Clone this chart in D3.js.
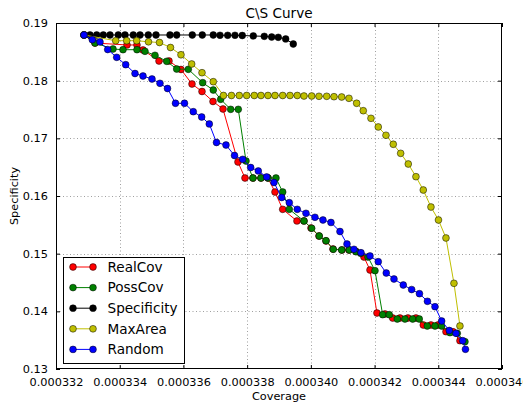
<!DOCTYPE html>
<html><head><meta charset="utf-8">
<script src="https://cdn.jsdelivr.net/npm/d3@7/dist/d3.min.js"></script>
<style>body{margin:0;background:#fff;} svg text{font-family:"DejaVu Sans",sans-serif;fill:#000;}</style>
</head><body><svg id="c" width="523" height="406"></svg>
<script>
const titleText = "C\\S Curve";
const xLabel = "Coverage";
const yLabel = "Specificity";
const xTicks = [0.000332, 0.000334, 0.000336, 0.000338, 0.000340, 0.000342, 0.000344, 0.000346];
const yTicks = [0.13, 0.14, 0.15, 0.16, 0.17, 0.18, 0.19];
const seriesNames = ["RealCov", "PossCov", "Specificity", "MaxArea", "Random"];
const seriesColors = ["#ff0000", "#008000", "#000000", "#bfbf00", "#0000ff"];

const realCovX = [0.000332879,0.000333224,0.000334229,0.000334542,0.000334731,0.000335233,0.000335547,0.000335923,0.000336269,0.000336583,0.000336928,0.000337242,0.000337712,0.000337932,0.000338183,0.000338434,0.000338654,0.000338874,0.000339116,0.000339564,0.000339784,0.000340004,0.000340255,0.000340475,0.000340694,0.000340977,0.000341196,0.000341416,0.000341667,0.000341856,0.000342075,0.000342326,0.000342568,0.000342797,0.000343048,0.000343299,0.000343529,0.000343770,0.000343990,0.000344241,0.000344461,0.000344680];
const realCovY = [0.18792,0.18653,0.18619,0.18619,0.18532,0.18341,0.18341,0.18194,0.17942,0.17812,0.17639,0.17509,0.16590,0.16312,0.16312,0.16312,0.16312,0.16069,0.15769,0.15567,0.15567,0.15445,0.15306,0.15220,0.15081,0.15064,0.15064,0.15038,0.14942,0.14717,0.13971,0.13954,0.13884,0.13884,0.13884,0.13884,0.13763,0.13763,0.13763,0.13647,0.13647,0.13491];

const possCovX = [0.000332879,0.000333224,0.000333789,0.000334103,0.000334542,0.000334793,0.000335107,0.000335475,0.000335788,0.000336153,0.000336604,0.000336937,0.000337169,0.000337483,0.000337722,0.000337964,0.000338183,0.000338434,0.000338654,0.000338905,0.000339116,0.000339323,0.000339784,0.000340026,0.000340264,0.000340475,0.000340704,0.000340967,0.000341206,0.000341416,0.000341564,0.000341793,0.000342013,0.000342254,0.000342461,0.000342713,0.000342954,0.000343196,0.000343403,0.000343654,0.000343896,0.000344106,0.000344367,0.000344596,0.000344837];
const possCovY = [0.18792,0.18653,0.18549,0.18537,0.18537,0.18509,0.18440,0.18336,0.18202,0.18197,0.17965,0.17838,0.17677,0.17503,0.17503,0.16607,0.16312,0.16312,0.16312,0.16312,0.16069,0.15769,0.15567,0.15440,0.15306,0.15225,0.15076,0.15064,0.15064,0.15034,0.15006,0.14942,0.14705,0.13942,0.13942,0.13867,0.13867,0.13867,0.13867,0.13746,0.13746,0.13746,0.13630,0.13619,0.13474];

const specificityX = [0.000332879,0.000333067,0.000333277,0.000333485,0.000333695,0.000333955,0.000334166,0.000334426,0.000334637,0.000334897,0.000335139,0.000335578,0.000335788,0.000336278,0.000336592,0.000336937,0.000337148,0.000337389,0.000337618,0.000337847,0.000338193,0.000338538,0.000338770,0.000338977,0.000339210,0.000339448];
const specificityY = [0.18792,0.18792,0.18792,0.18792,0.18792,0.18792,0.18792,0.18792,0.18792,0.18792,0.18792,0.18792,0.18792,0.18792,0.18792,0.18792,0.18787,0.18787,0.18787,0.18783,0.18775,0.18769,0.18757,0.18752,0.18723,0.18636];

const maxAreaX = [0.000332879,0.000333874,0.000334219,0.000334533,0.000334903,0.000335249,0.000335594,0.000335923,0.000336259,0.000336583,0.000336937,0.000337257,0.000337508,0.000337753,0.000337986,0.000338224,0.000338434,0.000338654,0.000338874,0.000339116,0.000339345,0.000339574,0.000339784,0.000340026,0.000340255,0.000340497,0.000340726,0.000340967,0.000341196,0.000341438,0.000341645,0.000341887,0.000342116,0.000342358,0.000342587,0.000342819,0.000343058,0.000343299,0.000343529,0.000343770,0.000344006,0.000344241,0.000344492,0.000344680];
const maxAreaY = [0.18792,0.18693,0.18693,0.18693,0.18674,0.18662,0.18575,0.18449,0.18289,0.18138,0.17982,0.17743,0.17743,0.17743,0.17743,0.17743,0.17743,0.17743,0.17743,0.17743,0.17743,0.17743,0.17734,0.17734,0.17729,0.17729,0.17722,0.17717,0.17694,0.17608,0.17479,0.17347,0.17197,0.17053,0.16897,0.16740,0.16555,0.16335,0.16104,0.15809,0.15584,0.15272,0.14486,0.13746];

const randomX = [0.000332879,0.000333139,0.000333381,0.000333623,0.000333905,0.000334188,0.000334480,0.000334731,0.000335013,0.000335264,0.000335500,0.000335751,0.000336033,0.000336309,0.000336573,0.000336812,0.000337038,0.000337336,0.000337603,0.000337860,0.000338111,0.000338350,0.000338613,0.000338842,0.000339084,0.000339323,0.000339574,0.000339847,0.000340129,0.000340380,0.000340631,0.000340914,0.000341134,0.000341353,0.000341573,0.000341856,0.000342116,0.000342367,0.000342609,0.000342901,0.000343164,0.000343409,0.000343660,0.000343896,0.000344106,0.000344345,0.000344555,0.000344765,0.000344853];
const randomY = [0.18792,0.18710,0.18671,0.18540,0.18405,0.18277,0.18124,0.18081,0.18029,0.17954,0.17864,0.17608,0.17608,0.17462,0.17370,0.17249,0.16928,0.16884,0.16702,0.16636,0.16494,0.16434,0.16330,0.16234,0.15974,0.15884,0.15769,0.15700,0.15631,0.15584,0.15541,0.15384,0.15168,0.15076,0.15017,0.14960,0.14861,0.14665,0.14561,0.14457,0.14378,0.14306,0.14174,0.14080,0.13832,0.13668,0.13619,0.13491,0.13342];

const seriesX = [realCovX, possCovX, specificityX, maxAreaX, randomX];
const seriesY = [realCovY, possCovY, specificityY, maxAreaY, randomY];

const L = 56, R = 502, T = 23, B = 369;
const svg = d3.select("#c");
const x = d3.scaleLinear().domain([xTicks[0], xTicks[xTicks.length-1]]).range([L, R]);
const y = d3.scaleLinear().domain([yTicks[0], yTicks[yTicks.length-1]]).range([B, T]);

svg.append("rect").attr("x",0).attr("y",0).attr("width",523).attr("height",406).attr("fill","#fff");
svg.append("rect").attr("x",L).attr("y",T).attr("width",R-L).attr("height",B-T).attr("fill","#fff");

// grid
const grid = svg.append("g").attr("stroke","#777").attr("stroke-width",0.7).attr("stroke-dasharray","1,2.5");
grid.selectAll(".gx").data(xTicks.slice(1,-1)).enter().append("line")
  .attr("x1",d=>Math.round(x(d))+0.5).attr("x2",d=>Math.round(x(d))+0.5).attr("y1",T).attr("y2",B);
grid.selectAll(".gy").data(yTicks.slice(1,-1)).enter().append("line")
  .attr("y1",d=>Math.round(y(d))+0.5).attr("y2",d=>Math.round(y(d))+0.5).attr("x1",L).attr("x2",R);

// axes (ticks inside, all four sides)
const fmtX = d3.format(".6f"), fmtY = d3.format(".2f");
function styleAxis(g){ g.select(".domain").remove(); g.selectAll("text").attr("font-size","11.3px").attr("font-family","DejaVu Sans").attr("fill","#000"); g.selectAll("line").attr("stroke","#000"); }
svg.append("g").attr("transform",`translate(0,${B})`)
  .call(d3.axisBottom(x).tickValues(xTicks).tickFormat(fmtX).tickSizeInner(-4).tickSizeOuter(0).tickPadding(9))
  .call(styleAxis);
svg.append("g").attr("transform",`translate(0,${T})`)
  .call(d3.axisTop(x).tickValues(xTicks).tickFormat("").tickSizeInner(-4).tickSizeOuter(0))
  .call(styleAxis);
svg.append("g").attr("transform",`translate(${L},0)`)
  .call(d3.axisLeft(y).tickValues(yTicks).tickFormat(fmtY).tickSizeInner(-4).tickSizeOuter(0).tickPadding(8))
  .call(styleAxis);
svg.append("g").attr("transform",`translate(${R},0)`)
  .call(d3.axisRight(y).tickValues(yTicks).tickFormat("").tickSizeInner(-4).tickSizeOuter(0))
  .call(styleAxis);

// series
const line = d3.line().x(d=>x(d[0])).y(d=>y(d[1]));
seriesNames.forEach((name,i)=>{
  const pts = seriesX[i].map((v,j)=>[v, seriesY[i][j]]);
  const g = svg.append("g");
  g.append("path").datum(pts).attr("d",line).attr("fill","none").attr("stroke",seriesColors[i]).attr("stroke-width",1);
  g.selectAll("circle").data(pts).enter().append("circle")
    .attr("cx",d=>x(d[0])).attr("cy",d=>y(d[1])).attr("r",3.4)
    .attr("fill",seriesColors[i]).attr("stroke","#000").attr("stroke-width",0.5);
});

// frame
svg.append("rect").attr("x",L+0.5).attr("y",T+0.5).attr("width",R-L-1).attr("height",B-T-1)
  .attr("fill","none").attr("stroke","#000").attr("stroke-width",1);

// title & labels
svg.append("text").attr("x",(L+R)/2).attr("y",17.5).attr("text-anchor","middle").attr("font-size","13.6px").text(titleText);
svg.append("text").attr("x",(L+R)/2).attr("y",400).attr("text-anchor","middle").attr("font-size","11.3px").text(xLabel);
svg.append("text").attr("transform",`translate(18,${(T+B)/2}) rotate(-90)`).attr("text-anchor","middle").attr("font-size","11.3px").text(yLabel);

// legend
const lg = svg.append("g");
lg.append("rect").attr("x",63.5).attr("y",257.5).attr("width",121).attr("height",106).attr("fill","#fff").attr("stroke","#000").attr("stroke-width",1);
seriesNames.forEach((name,i)=>{
  const yy = 267 + i*20.6;
  lg.append("line").attr("x1",73).attr("x2",93).attr("y1",yy).attr("y2",yy).attr("stroke",seriesColors[i]).attr("stroke-width",1);
  [73,93].forEach(xx=>lg.append("circle").attr("cx",xx).attr("cy",yy).attr("r",3.4).attr("fill",seriesColors[i]).attr("stroke","#000").attr("stroke-width",0.5));
  lg.append("text").attr("x",107.5).attr("y",yy).attr("dy","0.36em").attr("font-size","13.6px").text(name);
});
</script></body></html>
